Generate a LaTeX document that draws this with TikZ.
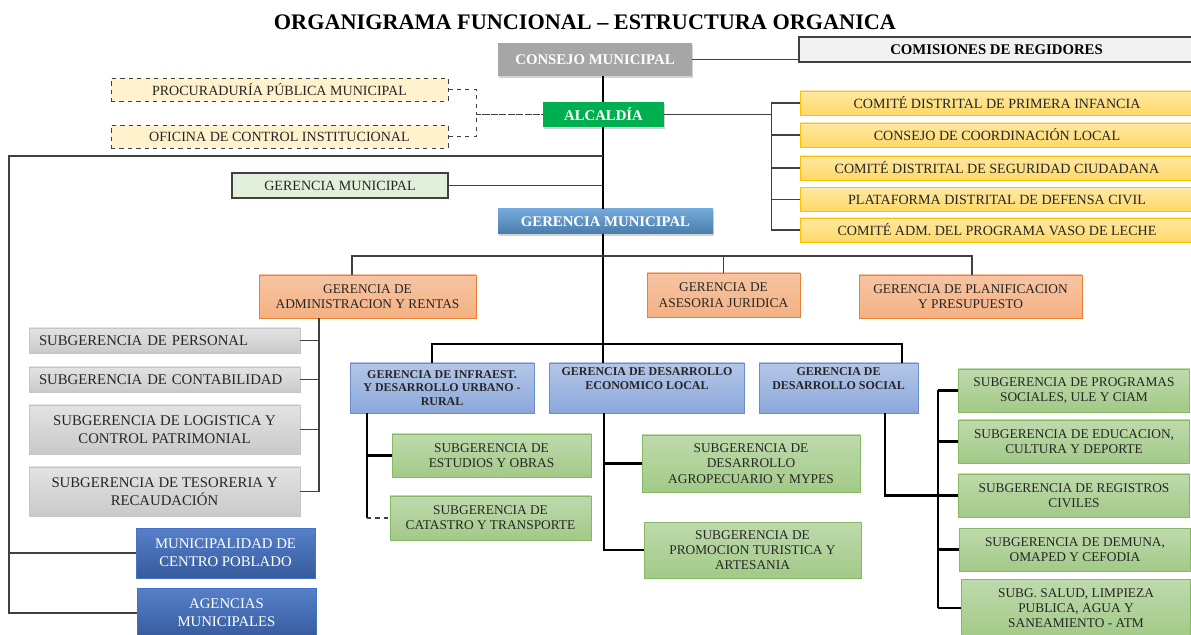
\documentclass[tikz,border=0pt]{standalone}
\usepackage{fontspec}
\setmainfont{Liberation Serif}
\usetikzlibrary{shadows}

\definecolor{texto}{HTML}{262626}
\definecolor{lineagris}{HTML}{404040}
\definecolor{grisconsejo}{HTML}{A6A6A6}
\definecolor{verdealc}{HTML}{00B050}
\definecolor{crema}{HTML}{FFF2CC}
\definecolor{verdeclaro}{HTML}{E2EFDA}
\definecolor{amarillo}{HTML}{FFD966}
\definecolor{amarilloborde}{HTML}{FFC000}
\definecolor{salmon}{HTML}{F4B183}
\definecolor{salmonborde}{HTML}{ED7D31}
\definecolor{azulborde}{HTML}{4472C4}
\definecolor{azulgm}{HTML}{5B9BD5}
\definecolor{verdeborde}{HTML}{70AD47}

\tikzset{
  tam/.style 2 args={minimum width=#1*0.025cm, minimum height=#2*0.025cm},
  caja/.style={rectangle, inner sep=0pt, align=center, text=texto},
  grueso/.style={black, line width=1.5pt},
  delgado/.style={lineagris, line width=0.9pt},
  sombra/.style={drop shadow={opacity=0.35, shadow xshift=0.8pt, shadow yshift=-1.2pt}},
  gris/.style={caja, draw=gray!45, top color=gray!22, bottom color=gray!42, font=\fontsize{10.5}{12.6}\selectfont},
  naranja/.style={caja, draw=salmonborde, top color=salmon!75!white, bottom color=salmon, font=\fontsize{9.5}{11}\selectfont},
  azul/.style={caja, draw=azulborde!80, top color=azulborde!40!white, bottom color=azulborde!62!white, text=black!85, font=\bfseries\fontsize{8.5}{9.4}\selectfont},
  verde/.style={caja, draw=verdeborde!85, top color=verdeborde!45!white, bottom color=verdeborde!65!white, font=\fontsize{9.5}{10.8}\selectfont},
  comite/.style={caja, draw=amarilloborde, top color=amarillo!60!white, bottom color=amarillo, font=\fontsize{10}{12}\selectfont},
  azuloscuro/.style={caja, draw=azulborde, top color=azulborde!90!white, bottom color=azulborde!80!black, text=white, font=\fontsize{10.5}{12.6}\selectfont},
}

\begin{document}
\begin{tikzpicture}[x=0.025cm, y=-0.025cm]
\useasboundingbox (0,0) rectangle (1191,635);

%% Title
\node[font=\bfseries\fontsize{15.8}{18}\selectfont] (titulo) at (585,22) {ORGANIGRAMA FUNCIONAL -- ESTRUCTURA ORGANICA};

%% Top level
\node[caja, tam={194}{33}, fill=grisconsejo, sombra, text=white, font=\bfseries\fontsize{10.5}{12}\selectfont] (consejo) at (595,59.5) {CONSEJO MUNICIPAL};
\node[caja, tam={395}{25}, fill=gray!10, draw=lineagris, line width=0.9pt, text=black, font=\bfseries\fontsize{10.5}{12}\selectfont] (comisiones) at (996.5,49.5) {COMISIONES DE REGIDORES};
\node[caja, tam={121}{25}, fill=verdealc, sombra, text=white, font=\bfseries\fontsize{10.5}{12}\selectfont] (alcaldia) at (603.5,114.5) {ALCALDÍA};

%% Organos de control (dashed)
\node[caja, tam={337}{23}, fill=crema, draw=lineagris, dashed, font=\fontsize{10}{12}\selectfont] (procu) at (279.5,89.5) {PROCURADURÍA PÚBLICA MUNICIPAL};
\node[caja, tam={337}{23}, fill=crema, draw=lineagris, dashed, font=\fontsize{10}{12}\selectfont] (oci) at (279.5,136.5) {OFICINA DE CONTROL INSTITUCIONAL};

%% Comites
\node[comite, tam={394}{24}] (c1) at (997,103) {COMITÉ DISTRITAL DE PRIMERA INFANCIA};
\node[comite, tam={394}{24}] (c2) at (997,135) {CONSEJO DE COORDINACIÓN LOCAL};
\node[comite, tam={394}{24}] (c3) at (997,168) {COMITÉ DISTRITAL DE SEGURIDAD CIUDADANA};
\node[comite, tam={394}{24}] (c4) at (997,199.5) {PLATAFORMA DISTRITAL DE DEFENSA CIVIL};
\node[comite, tam={394}{24}] (c5) at (997,230) {COMITÉ ADM. DEL PROGRAMA VASO DE LECHE};

%% Gerencia municipal
\node[caja, tam={216}{25}, fill=verdeclaro, draw=lineagris, line width=0.9pt, font=\fontsize{10}{12}\selectfont] (gmlight) at (340,185.5) {GERENCIA MUNICIPAL};
\node[caja, tam={215}{25}, top color=azulgm!85!white, bottom color=azulgm!80!black, sombra, text=white, font=\bfseries\fontsize{10.5}{12}\selectfont] (gmblue) at (605.5,221.5) {GERENCIA MUNICIPAL};

%% Gerencias de apoyo y asesoria
\node[naranja, tam={217}{43}] (gadm) at (367.5,296.5) {GERENCIA DE\\ADMINISTRACION Y RENTAS};
\node[naranja, tam={153}{44}] (gaj) at (723.5,295) {GERENCIA DE\\ASESORIA JURIDICA};
\node[naranja, tam={223}{43}] (gplan) at (970.5,296.5) {GERENCIA DE PLANIFICACION\\Y PRESUPUESTO};

%% Subgerencias de administracion
\node[gris, tam={271}{25}, text width=251*0.025cm, align=left] (personal) at (164.5,340.5) {SUBGERENCIA DE PERSONAL};
\node[gris, tam={271}{25}, text width=251*0.025cm, align=left] (contab) at (164.5,379.5) {SUBGERENCIA DE CONTABILIDAD};
\node[gris, tam={271}{49}] (logist) at (164.5,429.5) {SUBGERENCIA DE LOGISTICA Y\\CONTROL PATRIMONIAL};
\node[gris, tam={271}{49}] (tesor) at (164.5,491.5) {SUBGERENCIA DE TESORERIA Y\\RECAUDACIÓN};

%% Organos desconcentrados
\node[azuloscuro, tam={179}{50}] (municp) at (225.5,553) {MUNICIPALIDAD DE\\CENTRO POBLADO};
\node[azuloscuro, tam={179}{50}] (agencias) at (226.5,613) {AGENCIAS\\MUNICIPALES};

%% Gerencias de linea
\node[azul, tam={184}{50}] (ginf) at (442,388) {GERENCIA DE INFRAEST.\\Y DESARROLLO URBANO -\\RURAL};
\node[azul, tam={195}{50}] (geco) at (647,388) {GERENCIA DE DESARROLLO\\ECONOMICO LOCAL\\[4pt]};
\node[azul, tam={159}{50}] (gsoc) at (838.5,388) {GERENCIA DE\\DESARROLLO SOCIAL\\[4pt]};

%% Subgerencias de linea
\node[verde, tam={199}{43}] (estudios) at (491.5,455.5) {SUBGERENCIA DE\\ESTUDIOS Y OBRAS};
\node[verde, tam={201}{44}] (catastro) at (490.5,518) {SUBGERENCIA DE\\CATASTRO Y TRANSPORTE};
\node[verde, tam={218}{57}] (agro) at (751,463.5) {SUBGERENCIA DE\\DESARROLLO\\AGROPECUARIO Y MYPES};
\node[verde, tam={217}{56}] (promo) at (752.5,550) {SUBGERENCIA DE\\PROMOCION TURISTICA Y\\ARTESANIA};
\node[verde, tam={231}{43}] (programas) at (1074,390.5) {SUBGERENCIA DE PROGRAMAS\\SOCIALES, ULE Y CIAM};
\node[verde, tam={231}{43}] (educ) at (1074,441.5) {SUBGERENCIA DE EDUCACION,\\CULTURA Y DEPORTE};
\node[verde, tam={231}{43}] (regis) at (1074,495.5) {SUBGERENCIA DE REGISTROS\\CIVILES};
\node[verde, tam={231}{43}] (demuna) at (1075,549.5) {SUBGERENCIA DE DEMUNA,\\OMAPED Y CEFODIA};
\node[verde, tam={229}{58}, anchor=north] (salud) at (1076,579) {SUBG. SALUD, LIMPIEZA\\PUBLICA, AGUA Y\\SANEAMIENTO - ATM};

%% Connectors
\coordinate (t) at (603,0);
\coordinate (lz) at (9,156);
\coordinate (b1a) at (352,256);
\coordinate (b1b) at (972,256);
\coordinate (b2a) at (432,344);
\coordinate (b2b) at (902,344);
\coordinate (sa) at (319,0);
\coordinate (si) at (367,0);
\coordinate (se) at (604,0);
\coordinate (ss) at (885,0);
\coordinate (sb) at (938,0);

% trunk
\draw[grueso] (t |- consejo.south) -- (t |- alcaldia.north);
\draw[grueso] (t |- alcaldia.south) -- (t |- gmblue.north);
\draw[grueso] (t |- gmblue.south) -- (t |- geco.north);

% consejo, alcaldia
\draw[delgado] (consejo.east) -- (consejo.east -| comisiones.west);
\draw[delgado, dashed] (procu.east) -- ++(28,0) |- (alcaldia.west);
\draw[delgado, dashed] (oci.east) -- ++(28,0) |- (alcaldia.west);
\draw[delgado] (alcaldia.east) -- ++(107,0) coordinate (cb);
\foreach \c in {c1,c2,c3,c4,c5}
  \draw[delgado] (cb) |- (\c.west);

% outer loop
\draw[delgado] (t |- lz) -- (lz) |- (agencias.west);
\draw[delgado] (lz |- municp.west) -- (municp.west);
\draw[delgado] (gmlight.east) -- (gmlight.east -| t);

% apoyo y asesoria
\draw[delgado] (b1a |- gadm.north) -- (b1a) -- (b1b) -- (b1b |- gplan.north);
\draw[delgado] (gaj.north) -- (gaj.north |- b1a);
\draw[delgado] (sa |- gadm.south) -- (sa |- tesor.east) -- (tesor.east);
\foreach \s in {personal,contab,logist}
  \draw[delgado] (\s.east) -- (sa |- \s.east);

% linea
\draw[grueso] (b2a |- ginf.north) -- (b2a) -- (b2b) -- (b2b |- gsoc.north);
\draw[grueso] (si |- ginf.south) -- (si |- catastro.west);
\draw[grueso] (si |- estudios.west) -- (estudios.west);
\draw[delgado, dashed] (si |- catastro.west) -- (catastro.west);
\draw[grueso] (se |- geco.south) |- (promo.west);
\draw[grueso] (se |- agro.west) -- (agro.west);
\draw[grueso] (ss |- gsoc.south) |- (regis.west);
\draw[grueso] (sb |- programas.west) -- (sb |- salud.west);
\foreach \s in {programas,educ,regis,demuna,salud}
  \draw[grueso] (sb |- \s.west) -- (\s.west);

\end{tikzpicture}
\end{document}
